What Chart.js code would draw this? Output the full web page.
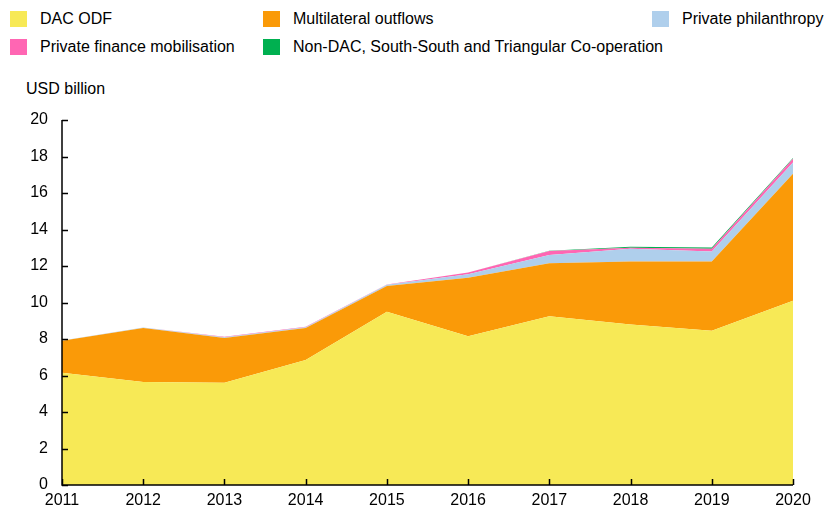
<!DOCTYPE html>
<html>
<head>
<meta charset="utf-8">
<script src="https://cdn.jsdelivr.net/npm/chart.js@4"></script>
<style>
  body { margin: 0; background: #fff; font-family: "Liberation Sans Narrow", "Liberation Sans", Arial, sans-serif; }
  #wrap { position: relative; width: 824px; height: 509px; }
  .leg { position: absolute; font-size: 16px; color: #000; line-height: 18px; white-space: nowrap; }
  .leg span { position: absolute; left: 0; top: 1px; width: 17px; height: 16px; }
  .leg b { font-weight: normal; position: absolute; left: 30px; top: 0; }
  #unit { position: absolute; left: 26px; top: 80px; font-size: 16px; }
  canvas { position: absolute; left: 0; top: 0; }
</style>
</head>
<body>
<div id="wrap">
  <div id="legend"></div>
  <div id="unit">USD billion</div>
  <canvas id="myChart" width="824" height="509"></canvas>
</div>
<script>
// anni sull'asse x
var years = ["2011", "2012", "2013", "2014", "2015", "2016", "2017", "2018", "2019", "2020"];
var yTicks = [0, 2, 4, 6, 8, 10, 12, 14, 16, 18, 20];

// serie (USD miliardi)
var dacOdf = [6.15, 5.65, 5.6, 6.85, 9.5, 8.15, 9.25, 8.8, 8.45, 10.1];
var multilateral = [1.75, 2.95, 2.45, 1.75, 1.4, 3.2, 2.9, 3.45, 3.8, 6.95];
var philanthropy = [0.02, 0.03, 0.05, 0.05, 0.07, 0.2, 0.45, 0.7, 0.55, 0.62];
var privateMob = [0, 0, 0.02, 0.02, 0.02, 0.1, 0.22, 0.05, 0.15, 0.2];
var nonDac = [0, 0, 0, 0, 0, 0, 0.02, 0.06, 0.07, 0.05];

var names = ["DAC ODF", "Multilateral outflows", "Private philanthropy",
  "Private finance mobilisation", "Non-DAC, South-South and Triangular Co-operation"];
var colors = ["#F7E956", "#FA9A08", "#AFCFEC", "#FF66B3", "#00B050"];

// posizione delle voci di legenda
var legendPos = [[10, 10, 0], [263, 10, 1], [652, 10, 2], [10, 38, 3], [263, 38, 4]];

function init() {
  buildLegend();
  drawChart();
}

function buildLegend() {
  var html = "";
  for (var i = 0; i < legendPos.length; i++) {
    var p = legendPos[i];
    html += '<div class="leg" style="left:' + p[0] + 'px;top:' + p[1] + 'px">' +
      '<span style="background:' + colors[p[2]] + '"></span><b>' + names[p[2]] + '</b></div>';
  }
  document.getElementById("legend").innerHTML = html;
}

// tacche interne agli assi
var innerTicks = {
  id: "innerTicks",
  afterDraw: function(chart) {
    var ctx = chart.ctx;
    var xs = chart.scales.x, ys = chart.scales.y;
    var area = chart.chartArea;
    ctx.save();
    ctx.strokeStyle = "#000";
    ctx.lineWidth = 1.5;
    ctx.beginPath();
    ctx.moveTo(area.left, area.top);
    ctx.lineTo(area.left, area.bottom);
    ctx.lineTo(area.right, area.bottom);
    for (var i = 0; i < yTicks.length; i++) {
      var y = Math.round(ys.getPixelForValue(yTicks[i])) + 0.5;
      ctx.moveTo(area.left, y);
      ctx.lineTo(area.left + 6, y);
    }
    for (var j = 0; j < years.length; j++) {
      var x = Math.round(xs.getPixelForValue(j)) + 0.5;
      ctx.moveTo(x, area.bottom);
      ctx.lineTo(x, area.bottom - 6);
    }
    ctx.stroke();
    ctx.restore();
  }
};

function drawChart() {
  var series = [dacOdf, multilateral, philanthropy, privateMob, nonDac];
  var datasets = [];
  for (var i = 0; i < series.length; i++) {
    datasets.push({
      label: names[i],
      data: series[i],
      backgroundColor: colors[i],
      borderColor: colors[i],
      borderWidth: 0,
      pointRadius: 0,
      fill: i == 0 ? "origin" : "-1",
      tension: 0
    });
  }

  var ctx = document.getElementById("myChart").getContext("2d");
  new Chart(ctx, {
    type: "line",
    data: { labels: years, datasets: datasets },
    options: {
      responsive: false,
      animation: false,
      layout: { padding: { top: 120, right: 31, left: 0, bottom: 0 } },
      plugins: { legend: { display: false }, tooltip: { enabled: false } },
      scales: {
        x: {
          offset: false,
          grid: { display: false, drawTicks: false },
          border: { display: false },
          ticks: { color: "#000", maxRotation: 0, padding: 6, font: { family: "Liberation Sans Narrow, Liberation Sans", size: 16 } },
          afterFit: function(s) { s.height = 24; }
        },
        y: {
          stacked: true,
          min: 0, max: 20,
          grid: { display: false, drawTicks: false },
          border: { display: false },
          ticks: { stepSize: 2, color: "#000", padding: 14, font: { family: "Liberation Sans Narrow, Liberation Sans", size: 16 } },
          afterFit: function(s) { s.width = 62; }
        }
      }
    },
    plugins: [innerTicks]
  });
}

init();
</script>
</body>
</html>
